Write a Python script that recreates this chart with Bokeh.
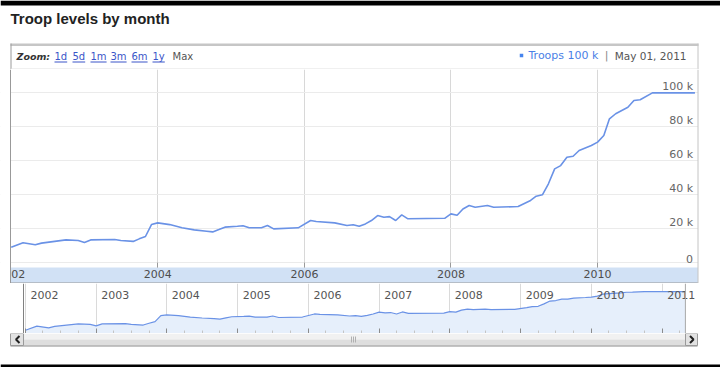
from datetime import datetime
from bokeh.plotting import figure
from bokeh.layouts import column
from bokeh.models import (Range1d, FixedTicker, DatetimeAxis, DatetimeTickFormatter,
                          BoxAnnotation, Span)
from bokeh.core.properties import value
from bokeh.embed import file_html
from bokeh.resources import INLINE

# ---------------- data ----------------
title_text = "Troop levels by month"
months = ["2002-01", "2002-03", "2002-05", "2002-06", "2002-10", "2002-12",
          "2003-01", "2003-02", "2003-06", "2003-07", "2003-09", "2003-10", "2003-11", "2003-12",
          "2004-01", "2004-03", "2004-05", "2004-07", "2004-09", "2004-10", "2004-11", "2004-12",
          "2005-02", "2005-03", "2005-04", "2005-06", "2005-07", "2005-08", "2005-12",
          "2006-02", "2006-03", "2006-06", "2006-08", "2006-09", "2006-10", "2006-11", "2006-12",
          "2007-01", "2007-02", "2007-03", "2007-04", "2007-05", "2007-06", "2007-12",
          "2008-01", "2008-02", "2008-03", "2008-04", "2008-05", "2008-07", "2008-08", "2008-12",
          "2009-02", "2009-03", "2009-04", "2009-05", "2009-06", "2009-07", "2009-08", "2009-09",
          "2009-10", "2009-12",
          "2010-01", "2010-02", "2010-03", "2010-04", "2010-06", "2010-07", "2010-08", "2010-10",
          "2011-05"]
troops_k = [9.0, 11.6, 10.4, 11.4, 13.3, 12.9,
            11.8, 13.3, 13.5, 12.9, 12.4, 13.9, 15.3, 22.3,
            23.3, 22.3, 20.4, 19.2, 18.4, 18.0, 19.4, 20.8,
            21.3, 21.6, 20.4, 20.4, 21.8, 19.8, 20.4,
            24.7, 24.1, 23.3, 21.8, 22.2, 21.3, 22.7, 24.7,
            27.6, 26.6, 27.0, 24.7, 28.0, 25.7, 26.0,
            28.6, 27.8, 31.5, 33.5, 32.5, 33.5, 32.5, 32.9,
            36.5, 39.0, 39.8, 46.3, 55.1, 57.0, 61.9, 62.5, 65.9, 68.8,
            70.8, 74.7, 84.5, 87.5, 91.3, 95.3, 95.7, 99.8, 99.8]
y_ticks_k = [0, 20, 40, 60, 80, 100]
y_tick_labels = ["0", "20 k", "40 k", "60 k", "80 k", "100 k"]
main_tick_years = [2004, 2006, 2008, 2010]
first_year_label = "02"      # the 2002 label, shown cut at the chart edge
nav_years = [2002, 2003, 2004, 2005, 2006, 2007, 2008, 2009, 2010, 2011]
zoom_links = ["1d", "5d", "1m", "3m", "6m", "1y"]
zoom_last = "Max"
legend_series = "Troops 100 k"
legend_date = "May 01, 2011"

assert len(months) == len(troops_k)
dates = [datetime.strptime(m, "%Y-%m") for m in months]
troops = [v * 1000 for v in troops_k]

FONT_NAME = "DejaVu Sans"
FONT = value(FONT_NAME)
LINE_BLUE = "#6a92e6"
MS_YEAR = 365.25 * 86400 * 1000.0


def ms(d):
    return (d - datetime(1970, 1, 1)).total_seconds() * 1000.0


def yr(y):
    return ms(datetime(y, 1, 1))


def base_fig(h, xr, yr_, **kw):
    # every figure uses the full 720 px width as its frame, so the column
    # layout has nothing to re-align
    return figure(width=720, height=h, x_range=xr, y_range=yr_, toolbar_location=None,
                  output_backend="svg", x_axis_location=None, y_axis_location=None,
                  min_border_left=0, min_border_right=0, min_border_top=0,
                  min_border_bottom=0, outline_line_color=None,
                  background_fill_color="white", border_fill_color="white", **kw)


# ---------------- header (pixel space) ----------------
h = base_fig(69, Range1d(0, 720), Range1d(69, 0))
h.grid.visible = False
h.quad(left=[0], right=[720], top=[0], bottom=[5], fill_color="black", line_color=None)
h.text(x=[10], y=[17.5], text=[title_text], text_font=value("Liberation Sans"),
       text_font_size="15px", text_font_style="bold", text_color="#222222",
       text_baseline="middle", text_align="left")
h.quad(left=[10], right=[698], top=[43], bottom=[45.5], fill_color="#c6c6c6", line_color=None)
h.segment(x0=[10.5, 697.5], y0=[43, 43], x1=[10.5, 697.5], y1=[69, 69],
          line_color=["#9a9a9a", "#c4c4c4"], line_width=1)
h.segment(x0=[10.5], y0=[68.5], x1=[697.5], y1=[68.5], line_color="#e0e0e0", line_width=1)
h.text(x=[16], y=[56], text=["Zoom:"], text_font=FONT, text_font_size="9.5px",
       text_font_style="bold italic", text_color="#333333", text_baseline="middle")
link_x = [54, 72, 90, 110, 131, 152]
link_w = [12.7, 12.7, 16.1, 16.1, 16.1, 12.3]
h.text(x=link_x, y=[56] * len(link_x), text=zoom_links, text_font=FONT,
       text_font_size="10px", text_color="#3a55c8", text_baseline="middle")
h.segment(x0=link_x, y0=[61.5] * len(link_x), x1=[a + b for a, b in zip(link_x, link_w)],
          y1=[61.5] * len(link_x), line_color="#3a55c8", line_width=1)
h.text(x=[172], y=[56], text=[zoom_last], text_font=FONT, text_font_size="10px",
       text_color="#555555", text_baseline="middle")
h.scatter(x=[521], y=[55], marker="square", size=3.5, fill_color="#4684ee", line_color=None)
h.text(x=[528], y=[55], text=[legend_series], text_font=FONT, text_font_size="11px",
       text_color="#4a7fe6", text_baseline="middle")
h.text(x=[606], y=[55], text=["|"], text_font=FONT, text_font_size="11px",
       text_color="#888888", text_baseline="middle", text_align="center")
h.text(x=[686], y=[55], text=[legend_date], text_font=FONT, text_font_size="10.5px",
       text_color="#555555", text_baseline="middle", text_align="right")

# ---------------- main chart ----------------
PX_YEAR_MAIN = 73.3          # 2002-01-01 sits at x = 10.7 px
px_per_k = 1.7               # 170 px per 100 k, 0 at y = 262 px
main_x0 = yr(2002) - (10.7 / PX_YEAR_MAIN) * MS_YEAR
main_x1 = yr(2002) + (709.3 / PX_YEAR_MAIN) * MS_YEAR
chart_l = yr(2002) - (0.7 / PX_YEAR_MAIN) * MS_YEAR      # left border (10 px)
chart_r = yr(2002) + (686.8 / PX_YEAR_MAIN) * MS_YEAR    # right border (697.5 px)
main_y0 = -21 / px_per_k * 1000
main_y1 = 193 / px_per_k * 1000
band_top = -5 / px_per_k * 1000

p = base_fig(214, Range1d(main_x0, main_x1), Range1d(main_y0, main_y1),
             x_axis_type="datetime")
p.xgrid.ticker = FixedTicker(ticks=[yr(y) for y in main_tick_years])
p.xgrid.grid_line_color = "#d8d8d8"
p.ygrid.ticker = FixedTicker(ticks=[v * 1000 for v in y_ticks_k])
p.ygrid.grid_line_color = "#ebebeb"
p.add_layout(BoxAnnotation(top=band_top, left=chart_l, right=chart_r, fill_color="#d1e1f5",
                           fill_alpha=1.0, line_color=None, level="underlay"))
p.line(dates, troops, line_color=LINE_BLUE, line_width=1.6)

fmt = DatetimeTickFormatter(years="%Y", months="%Y", days="%Y")
xax = DatetimeAxis(fixed_location=band_top,
                   ticker=FixedTicker(ticks=[yr(y) for y in main_tick_years]),
                   formatter=fmt, major_tick_in=5, major_tick_out=0,
                   minor_tick_in=0, minor_tick_out=0, axis_line_color=None,
                   major_tick_line_color="#9a9a9a", major_label_standoff=2,
                   major_label_text_font=FONT_NAME, major_label_text_font_size="11px",
                   major_label_text_color="#4d4d4d")
p.add_layout(xax, "below")
p.text(x=[datetime(2002, 1, 1)], y=[band_top], text=[first_year_label], text_font=FONT,
       text_font_size="11px", text_color="#4d4d4d", text_align="left",
       text_baseline="top", y_offset=2)
p.text(x=[chart_r] * len(y_ticks_k), y=[v * 1000 for v in y_ticks_k], text=y_tick_labels,
       text_font=FONT, text_font_size="11px", text_color="#666666", text_align="right",
       text_baseline="bottom", x_offset=-5)
# white margins outside the chart box
p.add_layout(BoxAnnotation(right=chart_l, fill_color="white", fill_alpha=1.0,
                           line_color=None, level="overlay"))
p.add_layout(BoxAnnotation(left=chart_r, fill_color="white", fill_alpha=1.0,
                           line_color=None, level="overlay"))
p.add_layout(Span(location=chart_l, dimension="height", line_color="#999999",
                  line_width=1, level="overlay"))
p.add_layout(Span(location=chart_r, dimension="height", line_color="#c4c4c4",
                  line_width=1, level="overlay"))
p.segment(x0=[chart_l], y0=[main_y0], x1=[chart_r], y1=[main_y0], line_color="#999999",
          line_width=2)

# ---------------- navigator ----------------
PX_YEAR_NAV = 70.75          # 2002-01-01 sits at x = 24.95 px
nav_x0 = yr(2002) - (24.95 / PX_YEAR_NAV) * MS_YEAR
nav_x1 = yr(2002) + (695.05 / PX_YEAR_NAV) * MS_YEAR
nav_l = yr(2002) - (1.95 / PX_YEAR_NAV) * MS_YEAR        # left border (23 px)
nav_y_top = 100000 * 10 ** (8 / 37)
nav_y_bot = 100000 / 10 ** (42 / 37)

n = base_fig(50, Range1d(nav_x0, nav_x1), Range1d(nav_y_bot, nav_y_top),
             x_axis_type="datetime", y_axis_type="log")
n.ygrid.visible = False
n.xgrid.ticker = FixedTicker(ticks=[yr(y) for y in nav_years])
n.xgrid.grid_line_color = "#dadada"
n.varea(x=dates, y1=[nav_y_bot] * len(dates), y2=troops, fill_color="#e6effb")
n.line(dates, troops, line_color=LINE_BLUE, line_width=1.2)
n.text(x=[datetime(y, 1, 1) for y in nav_years], y=[nav_y_top] * len(nav_years),
       text=[str(y) for y in nav_years], text_font=FONT, text_font_size="11px",
       text_color="#555555", text_align="left", text_baseline="top",
       x_offset=5, y_offset=7)
quarters = [ms(datetime(y, m, 1)) for y in nav_years for m in (4, 7, 10)
            if datetime(y, m, 1) <= dates[-1]]
nax = DatetimeAxis(fixed_location=nav_y_bot,
                   ticker=FixedTicker(ticks=[yr(y) for y in nav_years], minor_ticks=quarters),
                   major_tick_in=5, major_tick_out=0, minor_tick_in=3, minor_tick_out=0,
                   axis_line_color=None, major_tick_line_color="#8c8c8c",
                   minor_tick_line_color="#c4c4c4", major_label_text_alpha=0)
n.add_layout(nax, "below")
n.add_layout(Span(location=nav_l, dimension="height", line_color="#808080", line_width=1))
n.add_layout(Span(location=ms(dates[-1]), dimension="height", line_color="#a8a8a8",
                  line_width=1))

# ---------------- scrollbar strip (pixel space) ----------------
b = base_fig(34, Range1d(0, 720), Range1d(367, 333))
b.grid.visible = False
b.quad(left=[23], right=[685], top=[333], bottom=[339], fill_color="#f1f1f1", line_color=None)
b.quad(left=[23], right=[685], top=[339], bottom=[345], fill_color="#dedede", line_color=None)
b.segment(x0=[10], y0=[345.5], x1=[697], y1=[345.5], line_color="#8a8a8a", line_width=1)
b.quad(left=[10, 685], right=[23, 697], top=[333, 333], bottom=[345, 345],
       fill_color="#e2e2e2", line_color="#9a9a9a")
b.multi_line(xs=[[19, 15.5, 19], [689.5, 693, 689.5]],
             ys=[[335.5, 339, 342.5], [335.5, 339, 342.5]],
             line_color="#222222", line_width=2)
b.segment(x0=[351, 353, 355], y0=[336, 336, 336], x1=[351, 353, 355], y1=[342, 342, 342],
          line_color="#b0b0b0", line_width=1)
b.quad(left=[0], right=[720], top=[364], bottom=[367], fill_color="black", line_color=None)

layout = column(h, p, n, b, spacing=0)
open("out.html", "w").write(file_html(layout, INLINE))
